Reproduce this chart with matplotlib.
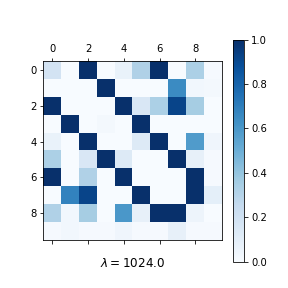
import numpy as np
import matplotlib
matplotlib.use("Agg")
import matplotlib.pyplot as plt

# attention-like weights
row0 = [0.18, 0.00, 1.00, 0.00, 0.07, 0.32, 1.00, 0.00, 0.33, 0.01]
row1 = [0.00, 0.00, 0.00, 1.00, 0.00, 0.00, 0.00, 0.65, 0.03, 0.02]
row2 = [1.00, 0.00, 0.00, 0.00, 1.00, 0.15, 0.33, 0.92, 0.35, 0.00]
row3 = [0.00, 1.00, 0.00, 0.02, 0.00, 1.00, 0.00, 0.00, 0.00, 0.00]
row4 = [0.07, 0.00, 1.00, 0.00, 0.00, 0.13, 1.00, 0.00, 0.58, 0.04]
row5 = [0.33, 0.00, 0.15, 1.00, 0.13, 0.00, 0.00, 1.00, 0.08, 0.01]
row6 = [1.00, 0.00, 0.32, 0.00, 1.00, 0.00, 0.00, 0.00, 1.00, 0.01]
row7 = [0.00, 0.68, 0.92, 0.00, 0.00, 1.00, 0.00, 0.00, 1.00, 0.09]
row8 = [0.32, 0.03, 0.35, 0.00, 0.60, 0.08, 1.00, 1.00, 0.05, 0.00]
row9 = [0.01, 0.03, 0.01, 0.01, 0.04, 0.01, 0.01, 0.08, 0.01, 0.01]
lam = 1024.0

M = np.array([row0, row1, row2, row3, row4, row5, row6, row7, row8, row9])

fig, ax = plt.subplots(figsize=(4, 4), dpi=72)
fig.subplots_adjust(left=0.151, right=0.926, top=0.862, bottom=0.092)
im = ax.matshow(M, cmap="Blues", vmin=0, vmax=1)
fig.colorbar(im)
ax.set_xlabel(r"$\lambda = $" + str(lam), fontsize=12, labelpad=14)
fig.savefig("out.png")
